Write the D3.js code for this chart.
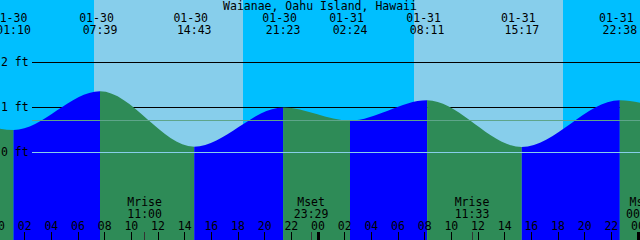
<!DOCTYPE html>
<html><head><meta charset="utf-8">
<script src="https://cdn.jsdelivr.net/npm/d3@7"></script>
<style>html,body{margin:0;padding:0;background:#00BFFF;overflow:hidden}
text{font-family:"DejaVu Sans Mono",monospace;font-size:11.5px;fill:#000}</style>
</head><body><svg id="c" width="640" height="240"></svg>
<script>
// ---- data ----
const title = "Waianae, Oahu Island, Hawaii";
const tideTimes = ["2020-01-29 19:30","2020-01-30 01:10","2020-01-30 07:39","2020-01-30 14:43","2020-01-30 21:23",
                   "2020-01-31 02:24","2020-01-31 08:11","2020-01-31 15:17","2020-01-31 22:38","2020-02-01 03:30"];
const tideHeights = [1.10, 0.50, 1.36, 0.13, 1.00, 0.71, 1.16, 0.12, 1.16, 0.75];
const labeledTides = [1, 2, 3, 4, 5, 6, 7, 8];
const sunriseTimes = ["2020-01-30 07:11","2020-01-31 07:11"];
const sunsetTimes  = ["2020-01-30 18:21","2020-01-31 18:21"];
const moonTimes  = ["2020-01-30 11:00","2020-01-30 23:29","2020-01-31 11:33","2020-02-01 00:24"];
const moonLabels = ["Mrise","Mset","Mrise","Mset"];
const gridFeet   = [2, 1];
const axisFeet   = [2, 1, 0];
const axisLabels = ["2 ft","1 ft","0 ft"];
const meanLevel  = 0.71;
const viewStart = "2020-01-30 00:09", viewEnd = "2020-02-01 00:09";
const hourTickStart = "2020-01-30 00:00", hourTickEnd = "2020-02-01 00:00";

// ---- setup ----
const W = 640, H = 240;
const parse = d3.timeParse("%Y-%m-%d %H:%M");
const svg = d3.select("#c");
const x = d3.scaleTime().domain([parse(viewStart), parse(viewEnd)]).range([0, W]);
const y = d3.scaleLinear().domain([0, 2]).range([152.5, 62.5]);
const px = t => Math.floor(x(t)) + 0.5;

const tides = tideTimes.map((t, i) => ({t: parse(t), h: tideHeights[i]}));

// background night / day
svg.append("rect").attr("x", 0).attr("y", 0).attr("width", W).attr("height", H).attr("fill", "#00BFFF");
sunriseTimes.forEach((s, i) => {
  const a = x(parse(s)), b = x(parse(sunsetTimes[i]));
  svg.append("rect").attr("x", Math.round(a)).attr("y", 0).attr("width", Math.round(b) - Math.round(a))
    .attr("height", H).attr("fill", "#87CEEB").attr("shape-rendering", "crispEdges");
});

// grid lines behind the water
gridFeet.forEach(f => {
  svg.append("line").attr("x1", 32).attr("x2", W).attr("y1", y(f)).attr("y2", y(f))
    .attr("stroke", "#000").attr("stroke-width", 1).attr("shape-rendering", "crispEdges");
});

// tide area
const area = d3.area().x(d => x(d.t)).y0(H).y1(d => y(d.h)).curve(d3.curveMonotoneX);
svg.append("clipPath").attr("id", "water").append("path").attr("d", area(tides));
const g = svg.append("g").attr("clip-path", "url(#water)");
for (let i = 0; i < tides.length - 1; i++) {
  const a = x(tides[i].t), b = x(tides[i + 1].t);
  g.append("rect").attr("x", a).attr("y", 0).attr("width", b - a).attr("height", H)
    .attr("fill", tides[i + 1].h > tides[i].h ? "#0000FF" : "#2E8B57");
}

// mean and datum lines over the water
svg.append("line").attr("x1", 32).attr("x2", W).attr("y1", y(meanLevel)).attr("y2", y(meanLevel))
  .attr("stroke", "#5ea58a").attr("shape-rendering", "crispEdges");
svg.append("line").attr("x1", 32).attr("x2", W).attr("y1", y(0)).attr("y2", y(0))
  .attr("stroke", "#87CEEB").attr("shape-rendering", "crispEdges");

// y labels
axisFeet.forEach((f, i) => {
  svg.append("text").attr("x", 1).attr("y", y(f) + 3.5).text(axisLabels[i]);
});

// title
svg.append("text").attr("x", W / 2).attr("y", 10).attr("text-anchor", "middle").text(title);

// tide event labels
const fDate = d3.timeFormat("%m-%d"), fTime = d3.timeFormat("%H:%M");
labeledTides.forEach(i => {
  const d = tides[i], cx = x(d.t);
  svg.append("text").attr("x", cx - 3.5).attr("y", 22).attr("text-anchor", "middle").text(fDate(d.t));
  svg.append("text").attr("x", cx).attr("y", 33.5).attr("text-anchor", "middle").text(fTime(d.t));
});

// moon labels + ticks
moonTimes.forEach((m, i) => {
  const t = parse(m), cx = x(t);
  svg.append("text").attr("x", cx).attr("y", 206).attr("text-anchor", "middle").text(moonLabels[i]);
  svg.append("text").attr("x", cx).attr("y", 218).attr("text-anchor", "middle").text(fTime(t));
  svg.append("line").attr("x1", px(t)).attr("x2", px(t)).attr("y1", 232).attr("y2", H)
    .attr("stroke", "#333").attr("shape-rendering", "crispEdges");
});

// hour axis
const hours = d3.timeHour.every(2).range(parse(hourTickStart), d3.timeMinute.offset(parse(hourTickEnd), 1));
const fHour = d3.timeFormat("%H");
const axis = d3.axisBottom(x).tickValues(hours).tickFormat(fHour).tickSize(0).tickPadding(0);
const ax = svg.append("g").attr("transform", "translate(0,0)").call(axis);
ax.select(".domain").remove();
ax.selectAll(".tick").attr("transform", d => `translate(${x(d)},0)`);
ax.selectAll(".tick text").attr("y", 230).attr("dy", null)
  .attr("font-family", null).attr("font-size", null).attr("fill", null)
  .style("font-family", "'DejaVu Sans Mono',monospace").style("font-size", "11.5px").style("fill", "#000");
ax.attr("font-family", null).attr("font-size", null);
hours.forEach(t => {
  const mid = t.getHours() === 0;
  const xx = Math.floor(x(t));
  if (mid) {
    svg.append("rect").attr("x", xx - 1).attr("y", 232).attr("width", 3).attr("height", 8)
      .attr("fill", "#000").attr("shape-rendering", "crispEdges");
  } else {
    svg.append("line").attr("x1", xx + 0.5).attr("x2", xx + 0.5).attr("y1", 232).attr("y2", H)
      .attr("stroke", "#000").attr("shape-rendering", "crispEdges");
  }
});
</script></body></html>
